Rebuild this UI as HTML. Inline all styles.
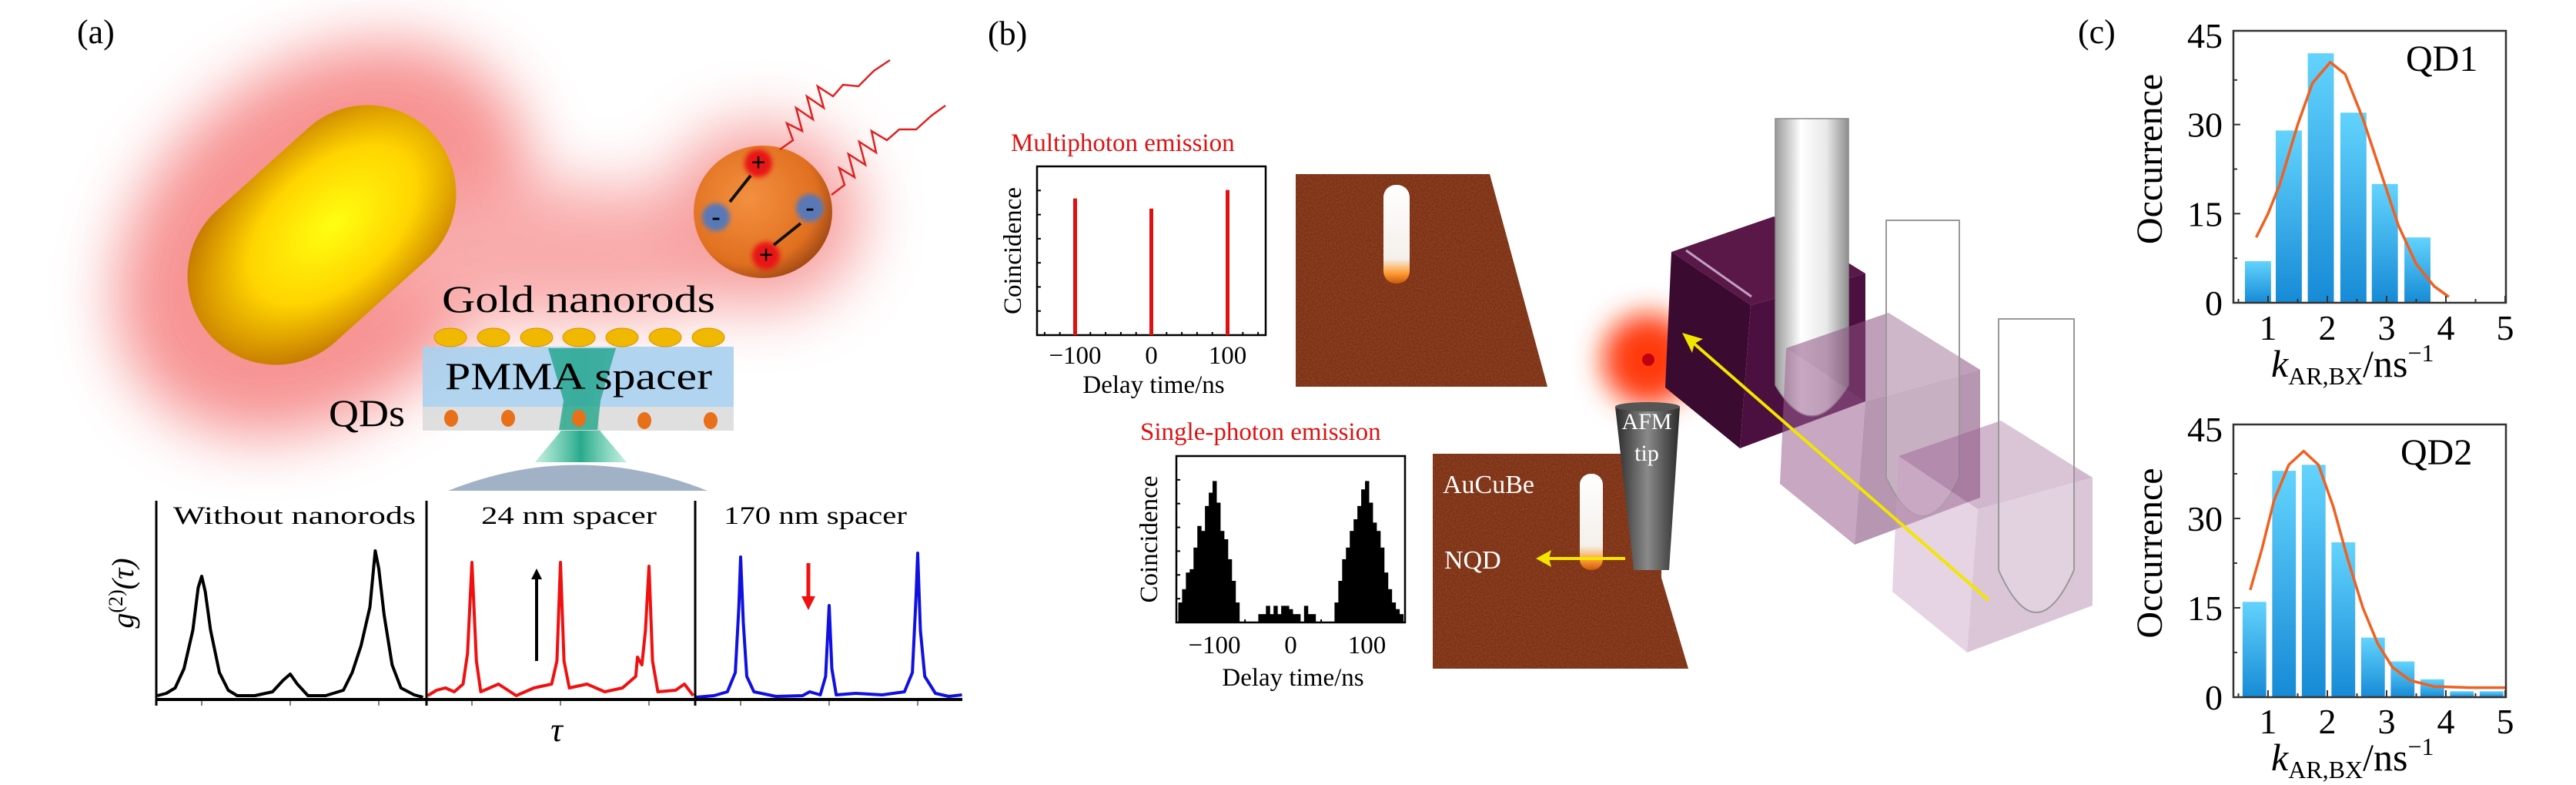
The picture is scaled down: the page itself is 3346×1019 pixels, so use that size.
<!DOCTYPE html>
<html><head><meta charset="utf-8"><style>
html,body{margin:0;padding:0;background:#fff;}
svg{display:block;}
text{font-family:"Liberation Serif",serif;}
</style></head><body>
<svg id="fig" width="3346" height="1019" viewBox="0 0 3346 1019" xmlns="http://www.w3.org/2000/svg">
<defs>
<filter id="blur40" x="-50%" y="-50%" width="200%" height="200%"><feGaussianBlur stdDeviation="40"/></filter>
<filter id="blur20" x="-50%" y="-50%" width="200%" height="200%"><feGaussianBlur stdDeviation="18"/></filter>
<filter id="blur6" x="-50%" y="-50%" width="200%" height="200%"><feGaussianBlur stdDeviation="5"/></filter>
<filter id="blur3" x="-50%" y="-50%" width="200%" height="200%"><feGaussianBlur stdDeviation="3"/></filter>
<filter id="noise"><feTurbulence type="fractalNoise" baseFrequency="0.5" numOctaves="2" seed="3"/><feColorMatrix type="matrix" values="0 0 0 0 0.45  0 0 0 0 0.16  0 0 0 0 0.06  0 0 0 1.2 -0.3"/><feComposite in2="SourceGraphic" operator="in"/></filter>
<radialGradient id="rodG" cx="0.55" cy="0.5" r="0.6"><stop offset="0" stop-color="#ffff10"/><stop offset="0.55" stop-color="#ffd400"/><stop offset="1" stop-color="#c47800"/></radialGradient>
<radialGradient id="sphG" cx="0.4" cy="0.4" r="0.7"><stop offset="0" stop-color="#f39040"/><stop offset="0.7" stop-color="#e07020"/><stop offset="1" stop-color="#8a3a10"/></radialGradient>
<linearGradient id="barG" x1="0" y1="0" x2="0" y2="1"><stop offset="0" stop-color="#63d3fd"/><stop offset="1" stop-color="#168ad6"/></linearGradient>
<linearGradient id="tipG" x1="0" y1="0" x2="1" y2="0"><stop offset="0" stop-color="#2a2a2a"/><stop offset="0.5" stop-color="#8a8a8a"/><stop offset="1" stop-color="#2a2a2a"/></linearGradient>
<linearGradient id="tubeG" x1="0" y1="0" x2="1" y2="0"><stop offset="0" stop-color="#9a9a9a"/><stop offset="0.35" stop-color="#ffffff"/><stop offset="0.7" stop-color="#e8e8e8"/><stop offset="1" stop-color="#8e8e8e"/></linearGradient>
<linearGradient id="rodW" x1="0" y1="0" x2="0" y2="1"><stop offset="0" stop-color="#ffffff"/><stop offset="0.75" stop-color="#f4f0ea"/><stop offset="0.9" stop-color="#ff9a30"/><stop offset="1" stop-color="#c85a10"/></linearGradient>
<linearGradient id="beamG" x1="0" y1="0" x2="1" y2="0"><stop offset="0" stop-color="#30c090" stop-opacity="0.3"/><stop offset="0.5" stop-color="#10a080"/><stop offset="1" stop-color="#30c090" stop-opacity="0.3"/></linearGradient>
</defs>

<!-- ============ PANEL A ============ -->
<g>
<text x="100" y="56" font-size="44">(a)</text>
<g filter="url(#blur40)" opacity="0.75">
<ellipse cx="420" cy="310" rx="300" ry="220" transform="rotate(-40 420 310)" fill="#f47070"/>
<ellipse cx="740" cy="330" rx="260" ry="90" fill="#f79090"/>
<ellipse cx="990" cy="280" rx="130" ry="120" fill="#f48080"/>
</g>
<g>
<rect x="223" y="190" width="390" height="230" rx="115" transform="rotate(-42 418 305)" fill="url(#rodG)"/>
</g>
<g>
<ellipse cx="991" cy="275" rx="90" ry="86" fill="url(#sphG)"/>
<circle cx="985" cy="212" r="18" fill="#e81818" filter="url(#blur3)"/>
<circle cx="995" cy="332" r="18" fill="#e81818" filter="url(#blur3)"/>
<circle cx="930" cy="282" r="18" fill="#5878b8" filter="url(#blur3)"/>
<circle cx="1052" cy="270" r="18" fill="#5878b8" filter="url(#blur3)"/>
<text x="985" y="222" font-size="34" text-anchor="middle" font-weight="bold">+</text>
<text x="995" y="342" font-size="34" text-anchor="middle" font-weight="bold">+</text>
<text x="930" y="292" font-size="34" text-anchor="middle" font-weight="bold">-</text>
<text x="1052" y="280" font-size="34" text-anchor="middle" font-weight="bold">-</text>
<line x1="948" y1="262" x2="975" y2="228" stroke="#111" stroke-width="4"/>
<line x1="1040" y1="290" x2="1005" y2="318" stroke="#111" stroke-width="4"/>
</g>
<g fill="none" stroke="#e02020" stroke-width="2.5">
<path d="M1013 194 L1030 182 L1022 160 L1042 170 L1034 140 L1056 155 L1048 125 L1070 140 L1062 112 L1082 125 L1095 110 L1115 112 L1135 92 L1156 78"/>
<path d="M1080 253 L1097 240 L1090 218 L1110 230 L1102 200 L1124 214 L1116 184 L1138 198 L1132 170 L1152 182 L1168 168 L1190 168 L1210 150 L1228 137"/>
</g>
<g>
<text x="574" y="405" font-size="50" textLength="355" lengthAdjust="spacingAndGlyphs">Gold nanorods</text>
<polygon points="695,600 814,600 780,560 770,520 790,452 715,452 735,520 728,560" fill="url(#beamG)" opacity="0.9"/>
<rect x="549" y="450" width="404" height="78" fill="#a9d0ee" opacity="0.9"/>
<rect x="549" y="528" width="404" height="31" fill="#dcdcdc" opacity="0.9"/>
<polygon points="712,452 800,452 780,520 776,558 726,558 732,520" fill="#10a080" opacity="0.7"/>
<g fill="#f0b800" stroke="#d89000" stroke-width="1">
<ellipse cx="585" cy="438" rx="21" ry="12"/><ellipse cx="641" cy="438" rx="21" ry="12"/><ellipse cx="697" cy="438" rx="21" ry="12"/><ellipse cx="752" cy="438" rx="21" ry="12"/><ellipse cx="808" cy="438" rx="21" ry="12"/><ellipse cx="864" cy="438" rx="21" ry="12"/><ellipse cx="920" cy="438" rx="21" ry="12"/>
</g>
<g fill="#e87018"><ellipse cx="586" cy="543" rx="9" ry="11"/><ellipse cx="660" cy="543" rx="9" ry="11"/><ellipse cx="752" cy="543" rx="9" ry="11"/><ellipse cx="837" cy="546" rx="9" ry="11"/><ellipse cx="923" cy="546" rx="9" ry="11"/></g>
<text x="578" y="505" font-size="50" textLength="347" lengthAdjust="spacingAndGlyphs">PMMA spacer</text>
<text x="427" y="553" font-size="50" textLength="99" lengthAdjust="spacingAndGlyphs">QDs</text>
<path d="M582 637 Q750 570 919 637 Z" fill="#a2b2c6"/>
</g>
<g id="g2"></g>
<text transform="translate(173 770) rotate(-90)" font-size="40" font-style="italic" text-anchor="middle">g<tspan font-size="26" dy="-14" font-style="normal">(2)</tspan><tspan dy="14">(τ)</tspan></text>
<text x="723" y="962" font-size="44" font-style="italic" text-anchor="middle">τ</text>
</g>

<!-- ============ PANEL B ============ -->
<g>
<text x="1283" y="58" font-size="44">(b)</text>
<text x="1313" y="196" font-size="33" fill="#e01010">Multiphoton emission</text>
<text x="1481" y="571" font-size="33" fill="#e01010">Single-photon emission</text>
<g id="multi"></g>
<g id="single"></g>
<g>
<polygon points="1683,226 1935,226 2010,502 1683,502" fill="#7a2e14"/>
<polygon points="1683,226 1935,226 2010,502 1683,502" fill="#fff" filter="url(#noise)" opacity="0.5"/>
<rect x="1797" y="240" width="34" height="128" rx="16" fill="url(#rodW)"/>
</g>
<g>
<polygon points="1861,589 2158,589 2158,750 2193,868 1861,868" fill="#7a2e14"/>
<polygon points="1861,589 2158,589 2158,750 2193,868 1861,868" fill="#fff" filter="url(#noise)" opacity="0.5"/>
<rect x="2052" y="615" width="30" height="125" rx="14" fill="url(#rodW)"/>
<text x="1874" y="640" font-size="34" fill="#fff">AuCuBe</text>
<text x="1876" y="738" font-size="34" fill="#fff">NQD</text>
<line x1="2111" y1="725" x2="2005" y2="725" stroke="#f2e600" stroke-width="4"/>
<polygon points="1995,725 2015,714 2012,725 2015,736" fill="#f2e600"/>
</g>
<g>
<circle cx="2141" cy="467" r="60" fill="#ff3a10" filter="url(#blur20)"/>
<circle cx="2141" cy="467" r="8" fill="#c00010"/>
</g>
<g>
<polygon points="2098,528 2182,528 2168,740 2122,740" fill="url(#tipG)"/>
<ellipse cx="2140" cy="528" rx="42" ry="6" fill="#555"/>
<text x="2139" y="557" font-size="30" fill="#fff" text-anchor="middle">AFM</text>
<text x="2139" y="598" font-size="30" fill="#fff" text-anchor="middle">tip</text>
</g>
<g>
<g>
<polygon points="2171,327 2304,281 2423,355 2274,396" fill="#5a1848"/>
<polygon points="2171,327 2274,396 2260,582 2163,503" fill="#3a0a30"/>
<polygon points="2274,396 2423,355 2423,521 2260,582" fill="#4c1040"/>
<line x1="2190" y1="325" x2="2275" y2="385" stroke="#c0a0c0" stroke-width="3"/>
</g>
<path d="M2306 154 L2401 154 L2401 500 Q2353 580 2306 500 Z" fill="url(#tubeG)" stroke="#888" stroke-width="1.5"/>
<g opacity="0.55">
<polygon points="2320,452 2453,406 2572,480 2423,521" fill="#8a5080"/>
<polygon points="2320,452 2423,521 2409,707 2312,628" fill="#9a6090"/>
<polygon points="2423,521 2572,480 2572,646 2409,707" fill="#7a4070"/>
</g>
<path d="M2450 286 L2545 286 L2545 620 Q2497 720 2450 620 Z" fill="#fff" fill-opacity="0.25" stroke="#999" stroke-width="2"/>
<g opacity="0.45">
<polygon points="2466,592 2599,546 2718,620 2569,661" fill="#9a6090"/>
<polygon points="2466,592 2569,661 2555,847 2458,768" fill="#c8a0c4"/>
<polygon points="2569,661 2718,620 2718,786 2555,847" fill="#b080a8"/>
</g>
<path d="M2596 414 L2694 414 L2694 740 Q2645 850 2596 740 Z" fill="#fff" fill-opacity="0.2" stroke="#999" stroke-width="2"/>
<line x1="2583" y1="779" x2="2197" y2="443" stroke="#f2e600" stroke-width="4"/>
<polygon points="2185,432 2212,440 2201,446 2198,458" fill="#f2e600"/>
</g>
</g>

<!-- ============ PANEL C ============ -->
<g>
<text x="2699" y="56" font-size="44">(c)</text>
<g id="qd1"></g>
<g id="qd2"></g>
</g>
</svg>

<script>
const NS = "http://www.w3.org/2000/svg";
function el(parent, tag, attrs, txt) {
  const e = document.createElementNS(NS, tag);
  for (const k in attrs) e.setAttribute(k, attrs[k]);
  if (txt !== undefined) e.textContent = txt;
  parent.appendChild(e);
  return e;
}

/* ---------- panel (a) g2 traces ---------- */
const g2PanelTitles = ["Without nanorods", "24 nm spacer", "170 nm spacer"];
const g2Colors = ["#000000", "#f01010", "#1010e0"];
const g2Black = [[-1.5,0.05],[-1.4,0.08],[-1.3,0.15],[-1.2,0.4],[-1.1,0.9],[-1.04,1.45],[-1.0,1.6],[-0.96,1.4],[-0.9,0.9],[-0.8,0.35],[-0.7,0.12],[-0.6,0.05],[-0.4,0.05],[-0.2,0.1],[-0.08,0.25],[0,0.33],[0.08,0.2],[0.2,0.05],[0.4,0.05],[0.6,0.12],[0.7,0.35],[0.8,0.7],[0.9,1.2],[0.96,1.93],[1.0,1.7],[1.06,1.1],[1.15,0.45],[1.25,0.15],[1.4,0.06],[1.5,0.03]];
const g2Red = [[-1.5,0.05],[-1.4,0.12],[-1.3,0.15],[-1.2,0.1],[-1.1,0.2],[-1.05,0.6],[-1.0,1.78],[-0.95,0.5],[-0.9,0.1],[-0.7,0.2],[-0.5,0.05],[-0.3,0.15],[-0.1,0.2],[-0.04,0.5],[0,1.78],[0.04,0.5],[0.1,0.15],[0.3,0.2],[0.5,0.1],[0.7,0.15],[0.85,0.3],[0.87,0.55],[0.92,0.45],[0.96,0.9],[1.0,1.73],[1.04,0.5],[1.1,0.1],[1.3,0.12],[1.4,0.2],[1.5,0.05]];
const g2Blue = [[-1.5,0.03],[-1.3,0.05],[-1.15,0.1],[-1.06,0.35],[-1.02,1.2],[-1.0,1.85],[-0.97,1.0],[-0.93,0.3],[-0.85,0.1],[-0.6,0.04],[-0.3,0.05],[-0.22,0.1],[-0.1,0.06],[-0.04,0.3],[0,1.22],[0.03,0.4],[0.08,0.06],[0.3,0.08],[0.6,0.06],[0.85,0.1],[0.94,0.35],[0.98,1.3],[1.0,1.9],[1.03,0.9],[1.08,0.3],[1.2,0.08],[1.35,0.04],[1.5,0.06]];
const g2Series = [g2Black, g2Red, g2Blue];
(function(){
  const g = document.getElementById("g2");
  const lefts = [203, 554, 903], W = 348, base = 908;
  const titleX = [225, 625, 940], titleW = [315, 228, 238];
  g2Series.forEach((pts, i) => {
    const x0 = lefts[i];
    const xs = t => x0 + W/2 + t * 115;
    const ys = v => base - v * 100;
    const d = pts.map((p, j) => (j ? "L" : "M") + xs(p[0]).toFixed(1) + " " + ys(p[1]).toFixed(1)).join(" ");
    const p = el(g, "path", {d: d, fill: "none", stroke: g2Colors[i], "stroke-width": 4, "stroke-linejoin": "round"});
    
    
    const ax = el(g, "line", {x1: x0, y1: 650, x2: x0, y2: 916, stroke: "#000", "stroke-width": 3});
    
    
    for (let k = -1; k <= 1; k++) {
      const t = el(g, "line", {x1: xs(k), y1: base, x2: xs(k), y2: base + 8, stroke: "#555", "stroke-width": 1.5});
      
      
    }
    const tt = el(g, "text", {x: titleX[i], y: 680, "font-size": 33, textLength: titleW[i], lengthAdjust: "spacingAndGlyphs"}, g2PanelTitles[i]);
    
    
  });
  const bl = el(g, "line", {x1: 203, y1: base, x2: 1250, y2: base, stroke: "#000", "stroke-width": 4});
  
  
  const ar1 = el(g, "path", {d: "M697 858 L697 748", stroke: "#000", "stroke-width": 4});
  
  
  el(g, "polygon", {points: "690,752 697,738 704,752", fill: "#000"});
  const ar2 = el(g, "path", {d: "M1050 731 L1050 780", stroke: "#f01010", "stroke-width": 5});
  
  
  el(g, "polygon", {points: "1041,774 1050,792 1059,774", fill: "#f01010"});
})();

/* ---------- panel (b) coincidence plots ---------- */
const multiPeakTimes = [-100, 0, 100];
const multiPeakHeights = [0.81, 0.75, 0.86];
const delayTicks = [-100, 0, 100];
const singleBinTimes = [-145,-140,-135,-130,-125,-120,-115,-110,-105,-100,-95,-90,-85,-80,-75,-70,-65,-60,-55,-50,-45,-40,-35,-30,-25,-20,-15,-10,-5,0,5,10,15,20,25,30,35,40,45,50,55,60,65,70,75,80,85,90,95,100,105,110,115,120,125,130,135,140,145];
const singleBinCounts = [0.12,0.2,0.3,0.32,0.45,0.58,0.55,0.7,0.78,0.85,0.72,0.55,0.5,0.38,0.25,0.12,0,0,0,0,0,0.05,0.05,0.1,0.05,0.1,0.05,0.1,0.1,0.08,0.05,0.05,0,0.1,0.05,0.05,0,0,0,0,0,0.12,0.25,0.38,0.45,0.55,0.62,0.7,0.8,0.85,0.72,0.6,0.55,0.45,0.3,0.2,0.12,0.08,0.05];

function coincFrame(g, L, T, R, B, tickY, labY, ylabX, prefix) {
  const fr = el(g, "rect", {x: L, y: T, width: R - L, height: B - T, fill: "none", stroke: "#000", "stroke-width": 2.5});
  
  
  const xs = v => L + (v + 150) / 300 * (R - L);
  for (let v = -140; v <= 140; v += 20) {
    const tk = el(g, "line", {x1: xs(v), y1: B, x2: xs(v), y2: B - (v % 50 === 0 ? 8 : 4), stroke: "#000", "stroke-width": 2});
    
    
  }
  for (let i = 1; i < 7; i++) {
    const yt = el(g, "line", {x1: L, y1: B - i * (B - T) / 7, x2: L + 5, y2: B - i * (B - T) / 7, stroke: "#000", "stroke-width": 2});
    
    
  }
  delayTicks.forEach(v => {
    const s = v < 0 ? "\u2212" + Math.abs(v) : String(v);
    const t = el(g, "text", {x: xs(v), y: tickY, "font-size": 33, "text-anchor": "middle"}, s);
    
    
  });
  const xl = el(g, "text", {x: (L + R) / 2 + 3, y: labY, "font-size": 33, "text-anchor": "middle"}, "Delay time/ns");
  
  
  const yl = el(g, "text", {transform: "translate(" + ylabX + " " + (T + B) / 2 + ") rotate(-90)", "font-size": 33, "text-anchor": "middle"}, "Coincidence");
  
  
  return xs;
}
(function(){
  const g = document.getElementById("multi");
  const L = 1347, T = 216, R = 1644, B = 435;
  const xs = coincFrame(g, L, T, R, B, 472, 510, 1326, "multiphoton");
  multiPeakTimes.forEach((t, i) => {
    const h = multiPeakHeights[i] * (B - T);
    const r = el(g, "rect", {x: xs(t) - 2.5, y: B - h, width: 5, height: h, fill: "#e01010"});
    
    
  });
})();
(function(){
  const g = document.getElementById("single");
  const L = 1528, T = 592, R = 1825, B = 808;
  const xs = coincFrame(g, L, T, R, B, 848, 890, 1503, "single-photon");
  const bw = xs(5) - xs(0);
  singleBinTimes.forEach((t, i) => {
    const h = singleBinCounts[i] * (B - T);
    if (h <= 0) return;
    const r = el(g, "rect", {x: xs(t) - bw / 2, y: B - h, width: bw + 0.5, height: h, fill: "#000"});
    
    
  });
})();

/* ---------- panel (c) histograms ---------- */
const kTicks = [1, 2, 3, 4, 5];
const occTicks = [0, 15, 30, 45];
const qd1BinCenters = [0.83, 1.35, 1.89, 2.44, 2.97, 3.52];
const qd1Counts = [7, 29, 42, 32, 20, 11];
const qd1FitX = [0.8, 1.0, 1.2, 1.5, 1.75, 2.05, 2.3, 2.6, 2.9, 3.2, 3.5, 3.8, 4.05];
const qd1FitY = [11, 15, 20, 30, 37, 40.5, 38.5, 31, 22, 13, 6.5, 2.8, 1];
const qd2BinCenters = [0.77, 1.27, 1.77, 2.27, 2.77, 3.27, 3.77, 4.27, 4.77];
const qd2Counts = [16, 38, 39, 26, 10, 6, 3, 1, 1];
const qd2FitX = [0.7, 0.9, 1.1, 1.35, 1.6, 1.85, 2.1, 2.35, 2.6, 2.85, 3.1, 3.4, 3.8, 4.4, 5.0];
const qd2FitY = [18, 25, 33, 39, 41.3, 39, 32, 23, 15, 9, 5, 2.8, 1.8, 1.6, 1.6];

function histo(id, name, label, centers, counts, binW, fx, fy, T, B, labelX, tickBase, titleBase) {
  const g = document.getElementById(id);
  const L = 2901, R = 3255;
  const xs = v => 2946 + (v - 1) * 77;
  const ys = v => B - v * (B - T - 6) / 45;
  centers.forEach((c, i) => {
    const r = el(g, "rect", {x: xs(c - binW / 2), y: ys(counts[i]), width: binW * 77, height: B - ys(counts[i]), fill: "url(#barG)"});
    
    
  });
  const d = fx.map((x, i) => (i ? "L" : "M") + xs(x).toFixed(1) + " " + ys(fy[i]).toFixed(1)).join(" ");
  const fit = el(g, "path", {d: d, fill: "none", stroke: "#f06020", "stroke-width": 3.5, "stroke-linejoin": "round"});
  
  
  const fr = el(g, "rect", {x: L, y: T, width: R - L, height: B - T, fill: "none", stroke: "#333", "stroke-width": 2.5});
  
  
  for (let v = 0.5; v <= 5; v += 0.5) {
    const tk = el(g, "line", {x1: xs(v), y1: B, x2: xs(v), y2: B - (v % 1 === 0 ? 9 : 5), stroke: "#333", "stroke-width": 2});
    
    
  }
  for (let v = 7.5; v < 45; v += 7.5) {
    const tk = el(g, "line", {x1: L, y1: ys(v), x2: L + (v % 15 === 0 ? 9 : 5), y2: ys(v), stroke: "#333", "stroke-width": 2});
    
    
  }
  kTicks.forEach(v => {
    const t = el(g, "text", {x: xs(v), y: tickBase, "font-size": 46, "text-anchor": "middle"}, String(v));
    
    
  });
  occTicks.forEach(v => {
    const t = el(g, "text", {x: 2887, y: ys(v) + 16, "font-size": 46, "text-anchor": "end"}, String(v));
    
    
  });
  const yl = el(g, "text", {transform: "translate(2808 " + ((T + B) / 2 - 10) + ") rotate(-90)", "font-size": 48, "text-anchor": "middle"}, "Occurrence");
  
  
  const xl = el(g, "text", {x: 2950, y: titleBase, "font-size": 50});
  
  
  el(xl, "tspan", {"font-style": "italic"}, "k");
  el(xl, "tspan", {"font-size": 32, dy: 10}, "AR,BX");
  el(xl, "tspan", {dy: -10}, "/ns");
  el(xl, "tspan", {"font-size": 32, dy: -20}, "\u22121");
  const q = el(g, "text", {x: labelX, y: T + 52, "font-size": 48}, label);
  
  
}
histo("qd1", "qd1", "QD1", qd1BinCenters, qd1Counts, 0.44, qd1FitX, qd1FitY, 40, 393, 3125, 441, 489);
histo("qd2", "qd2", "QD2", qd2BinCenters, qd2Counts, 0.40, qd2FitX, qd2FitY, 551, 905, 3118, 952, 1000);
</script>
</body></html>
